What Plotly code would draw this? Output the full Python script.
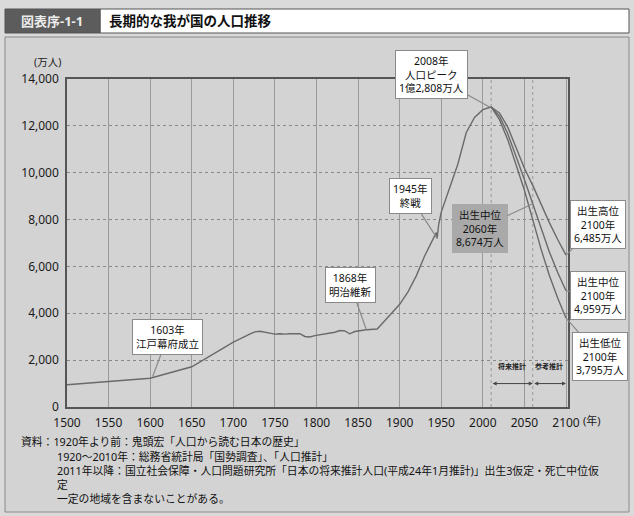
import plotly.graph_objects as go

# ---------------- data ----------------
hist_years = [1500, 1550, 1600, 1650, 1700, 1721, 1726, 1732, 1744, 1750, 1756, 1762,
              1768, 1774, 1780, 1786, 1792, 1798, 1804, 1822, 1828, 1834, 1840, 1846,
              1860, 1873, 1890, 1900, 1910, 1920, 1930, 1940, 1944, 1945, 1947, 1950,
              1960, 1970, 1980, 1990, 2000, 2008, 2010]
hist_pop = [950, 1080, 1227, 1718, 2769, 3128, 3208, 3230, 3153, 3110, 3128, 3110,
            3125, 3110, 3126, 3010, 2987, 3047, 3077, 3191, 3263, 3248, 3123, 3221,
            3300, 3330, 3990, 4385, 4918, 5596, 6445, 7193, 7443, 7199, 7810, 8320,
            9342, 10372, 11706, 12361, 12693, 12808, 12806]

proj_years = [2010, 2020, 2030, 2040, 2050, 2060, 2070, 2080, 2090, 2100]
proj_high = [12806, 12554, 11944, 11106, 10189, 9460, 8660, 7870, 7150, 6485]
proj_mid = [12806, 12410, 11662, 10728, 9708, 8674, 7620, 6620, 5740, 4959]
proj_low = [12806, 12266, 11407, 10375, 9254, 7997, 6740, 5610, 4650, 3795]

x_ticks = [1500, 1550, 1600, 1650, 1700, 1750, 1800, 1850, 1900, 1950, 2000, 2050, 2100]
y_ticks = [0, 2000, 4000, 6000, 8000, 10000, 12000, 14000]
y_tick_labels = ["0", "2,000", "4,000", "6,000", "8,000", "10,000", "12,000", "14,000"]

footer_lines = [
    "資料：1920年より前：鬼頭宏「人口から読む日本の歴史」",
    "1920～2010年：総務省統計局「国勢調査」、「人口推計」",
    "2011年以降：国立社会保障・人口問題研究所「日本の将来推計人口(平成24年1月推計)」出生3仮定・死亡中位仮",
    "定",
    "一定の地域を含まないことがある。",
]

# ---------------- layout geometry (pixels) ----------------
W, H = 634, 516
L, R, T, B = 67, 568, 79, 407
FONT = "Noto Sans, Noto Sans CJK JP, sans-serif"
LINE = "#6a6a6a"


def px(x):
    return (x - L) / (R - L)


def py(y):
    return (B - y) / (B - T)


fig = go.Figure()

for yrs, vals in [(hist_years, hist_pop), (proj_years, proj_high),
                  (proj_years, proj_mid), (proj_years, proj_low)]:
    fig.add_trace(go.Scatter(x=yrs, y=vals, mode="lines",
                             line=dict(color=LINE, width=1.4),
                             showlegend=False, hoverinfo="skip"))

shapes = []
# outer panel
shapes.append(dict(type="rect", xref="paper", yref="paper",
                   x0=px(5), x1=px(629), y0=py(512), y1=py(37),
                   line=dict(color="#8a8a8a", width=1), fillcolor="#d3d3d3", layer="below"))
# title bar
shapes.append(dict(type="rect", xref="paper", yref="paper",
                   x0=px(100), x1=px(629), y0=py(33), y1=py(9),
                   line=dict(color="#555", width=1), fillcolor="#ffffff"))
shapes.append(dict(type="rect", xref="paper", yref="paper",
                   x0=px(5), x1=px(100), y0=py(33), y1=py(9),
                   line=dict(color="#555", width=1), fillcolor="#5c5c5c"))
# dotted projection boundaries
for xv in (2010, 2060):
    shapes.append(dict(type="line", xref="x", yref="paper", x0=xv, x1=xv, y0=0, y1=1,
                       line=dict(color="#999", width=1, dash="dot"), layer="below"))

annotations = []


def paper_text(text, x, y, size, color, xanchor="center"):
    annotations.append(dict(text=text, xref="paper", yref="paper", x=px(x), y=py(y),
                            xanchor=xanchor, yanchor="middle", showarrow=False,
                            font=dict(family=FONT, size=size, color=color)))


# title texts
paper_text("<b>図表序-1-1</b>", 52, 21, 13, "#ececec")
paper_text("<b>長期的な我が国の人口推移</b>", 107, 21, 13.5, "#111", "left")
# axis unit labels
paper_text("(万人)", 47, 62, 10.5, "#222")
paper_text("(年)", 581, 420, 11, "#222", "left")

# callouts: (text, x, y, ax, ay, bg)
callouts = [
    ("1603年<br>江戸幕府成立", 1603, 1300, 15, -40, "white"),
    ("1868年<br>明治維新", 1860, 3300, -16, -45, "white"),
    ("1945年<br>終戦", 1945, 7199, -27, -42, "white"),
    ("2008年<br>人口ピーク<br>1億2,808万人", 2008, 12808, -58, -32, "white"),
    ("出生中位<br>2060年<br>8,674万人", 2060, 8674, -53, 25, "#a9a9a9"),
    ("出生高位<br>2100年<br>6,485万人", 2100, 6485, 32, -31, "white"),
    ("出生中位<br>2100年<br>4,959万人", 2100, 4959, 32, 5, "white"),
    ("出生低位<br>2100年<br>3,795万人", 2100, 3795, 34, 38, "white"),
]
for text, xv, yv, ax, ay, bg in callouts:
    annotations.append(dict(text=text, x=xv, y=yv, ax=ax, ay=ay, xref="x", yref="y",
                            showarrow=True, arrowhead=0, arrowwidth=1.2,
                            arrowcolor="#8a8a8a", standoff=0,
                            bgcolor=bg, bordercolor="#8a8a8a" if bg == "white" else bg,
                            borderwidth=1, borderpad=3,
                            font=dict(family=FONT, size=10.5, color="#111")))

# projection period labels and arrows
annotations.append(dict(text="<b>将来推計</b>", x=2035, y=1750, xref="x", yref="y",
                        showarrow=False, font=dict(family=FONT, size=7, color="#222")))
annotations.append(dict(text="<b>参考推計</b>", x=2080, y=1750, xref="x", yref="y",
                        showarrow=False, font=dict(family=FONT, size=7, color="#222")))
for x0, x1 in [(2010, 2060), (2060, 2100)]:
    annotations.append(dict(text="", x=x1, y=1000, ax=x0, ay=1000, xref="x", yref="y",
                            axref="x", ayref="y", showarrow=True, arrowhead=2,
                            arrowside="end+start", arrowsize=0.8, arrowwidth=1,
                            arrowcolor="#444", standoff=0, startstandoff=0))

# footer
foot_y = [441, 456, 470, 484, 498]
for i, (line, yy) in enumerate(zip(footer_lines, foot_y)):
    paper_text(line, 19 if i == 0 else 55, yy, 10.8, "#111", "left")

fig.update_layout(
    width=W, height=H,
    margin=dict(l=L, r=W - R, t=T, b=H - B, pad=0),
    paper_bgcolor="#dadada",
    plot_bgcolor="#ffffff",
    font=dict(family=FONT, size=11, color="#222"),
    shapes=shapes,
    annotations=annotations,
    xaxis=dict(range=[1500, 2102.4], tickvals=x_ticks, ticktext=[str(v) for v in x_ticks],
               showgrid=True, gridcolor="#9a9a9a", gridwidth=1,
               showline=True, linecolor="#555", linewidth=1.5, mirror=True,
               ticks="", zeroline=False, ticklabelstandoff=4,
               tickfont=dict(size=12, color="#1a1a1a")),
    yaxis=dict(range=[0, 14000], tickvals=y_ticks, ticktext=y_tick_labels,
               showgrid=True, gridcolor="#8a8a8a", gridwidth=1, griddash="dot",
               showline=True, linecolor="#555", linewidth=1.5, mirror=True,
               ticks="", zeroline=False, ticklabelstandoff=4,
               tickfont=dict(size=12, color="#1a1a1a")),
)

fig.write_html("out.html")
